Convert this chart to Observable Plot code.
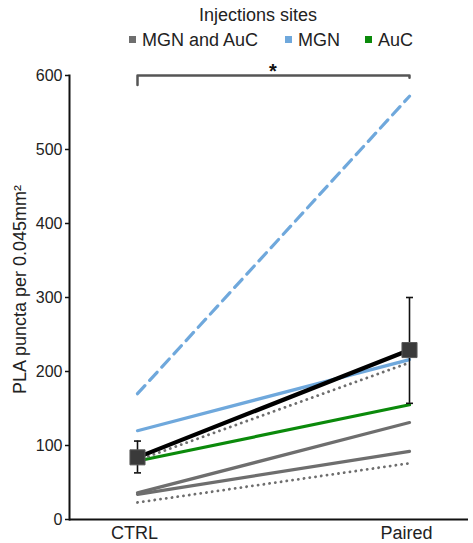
<!DOCTYPE html>
<html>
<head>
<meta charset="utf-8">
<script src="https://cdn.jsdelivr.net/npm/d3@7"></script>
<script src="https://cdn.jsdelivr.net/npm/@observablehq/plot@0.6"></script>
<style>
  html, body { margin: 0; padding: 0; background: #fff; }
  body { width: 473px; height: 543px; overflow: hidden; font-family: "Liberation Sans", Arial, sans-serif; }
  #legend { position: relative; height: 48px; width: 473px; color: #222; }
  #legend .title { position: absolute; top: 4px; left: 0; width: 473px; padding-left: 43px; box-sizing: border-box; text-align: center; font-size: 18px; line-height: 22px; }
  #legend .item { position: absolute; top: 29px; font-size: 18px; line-height: 22px; white-space: nowrap; z-index: 2; }
  #legend .sw { display: inline-block; width: 7px; height: 7px; margin-right: 6px; vertical-align: 3px; }
  #chart svg { display: block; }
</style>
</head>
<body>
<div id="legend"></div>
<div id="chart"></div>
<script>
// ---- data ----
const conditions = ["CTRL", "Paired"];
const animalIds = ["a1", "a2", "a3", "a4", "a5", "a6", "a7"];
const animalSites = ["MGN", "MGN", "AuC", "MGN and AuC", "MGN and AuC", "MGN and AuC", "MGN and AuC"];
const ctrlValues = [170, 120, 79, 80, 36, 34, 23];
const pairedValues = [572, 216, 155, 212, 131, 92, 76];
const meanValues = [84, 229];
const errLower = [63, 157];
const errUpper = [106, 300];
const siteNames = ["MGN and AuC", "MGN", "AuC"];
const siteColors = ["#6e6e6e", "#6fa8dc", "#0b8a0b"];
const yTicks = [0, 100, 200, 300, 400, 500, 600];
const bracketValues = [587, 600, 600, 597];
const bracketConds = ["CTRL", "CTRL", "Paired", "Paired"];
const significance = "*";
const legendTitle = "Injections sites";
const yLabel = "PLA puncta per 0.045mm²";

// ---- styles (by animal) ----
const dashedIds = ["a1"];
const dottedIds = ["a4", "a7"];

// ---- build tables ----
const rows = [];
animalIds.forEach((id, i) => {
  rows.push({id, site: animalSites[i], cond: conditions[0], value: ctrlValues[i]});
  rows.push({id, site: animalSites[i], cond: conditions[1], value: pairedValues[i]});
});
const means = conditions.map((c, i) => ({cond: c, value: meanValues[i], lo: errLower[i], hi: errUpper[i]}));
const bracket = bracketConds.map((c, i) => ({cond: c, value: bracketValues[i]}));

const solidRows = rows.filter(d => !dashedIds.includes(d.id) && !dottedIds.includes(d.id));
const dashedRows = rows.filter(d => dashedIds.includes(d.id));
const dottedRows = rows.filter(d => dottedIds.includes(d.id));

// legend
const legend = document.getElementById("legend");
const t = document.createElement("div");
t.className = "title"; t.textContent = legendTitle; legend.appendChild(t);
const legendLefts = [129, 285, 365];
siteNames.forEach((s, i) => {
  const it = document.createElement("div");
  it.className = "item";
  it.style.left = legendLefts[i] + "px";
  const sw = document.createElement("span");
  sw.className = "sw"; sw.style.background = siteColors[i];
  it.appendChild(sw);
  it.appendChild(document.createTextNode(s));
  legend.appendChild(it);
});

const capSymbol = {
  draw(context, size) {
    const r = Math.sqrt(size / Math.PI);
    context.moveTo(-r, 0);
    context.lineTo(r, 0);
  }
};

const color = {domain: siteNames, range: siteColors};

const chart = Plot.plot({
  width: 473,
  height: 495,
  marginLeft: 69,
  marginRight: 5,
  marginTop: 27,
  marginBottom: 24,
  style: {fontFamily: "Liberation Sans, Arial, sans-serif", color: "#222", background: "transparent"},
  x: {type: "point", domain: conditions, range: [137, 409], padding: 0},
  y: {domain: [0, 600], range: [471, 27]},
  color,
  marks: [
    Plot.axisY({ticks: yTicks, tickSize: 4, tickPadding: 3, fontSize: 16, label: null, stroke: "#111", strokeWidth: 1.5}),
    Plot.axisX({tickSize: 0, tickPadding: 7, fontSize: 18, label: null, dx: -3}),
    Plot.frame({anchor: "left", stroke: "#111", strokeWidth: 2}),
    Plot.ruleY([0], {stroke: "#111", strokeWidth: 2}),
    Plot.text([yLabel], {frameAnchor: "left", textAnchor: "middle", rotate: -90, dx: -49, dy: -8, fontSize: 18, fill: "#222"}),
    // individual animals
    Plot.line(solidRows, {x: "cond", y: "value", z: "id", stroke: "site", strokeWidth: 3.2}),
    Plot.line(dottedRows, {x: "cond", y: "value", z: "id", stroke: "site", strokeWidth: 2.8, strokeDasharray: "0.1,5.7", strokeLinecap: "round"}),
    Plot.line(dashedRows, {x: "cond", y: "value", z: "id", stroke: "site", strokeWidth: 3.2, strokeDasharray: "11,7"}),
    // mean
    Plot.line(means, {x: "cond", y: "value", stroke: "#000", strokeWidth: 4.2}),
    Plot.ruleX(means, {x: "cond", y1: "lo", y2: "hi", stroke: "#111", strokeWidth: 1.6}),
    Plot.dot(means, {x: "cond", y: "lo", symbol: capSymbol, r: 3.5, stroke: "#111", strokeWidth: 1.6, fill: "none"}),
    Plot.dot(means, {x: "cond", y: "hi", symbol: capSymbol, r: 3.5, stroke: "#111", strokeWidth: 1.6, fill: "none"}),
    Plot.dot(means, {x: "cond", y: "value", symbol: "square", r: 8.5, fill: "#3a3a3a", stroke: "#5a5a5a", strokeWidth: 1}),
    // significance bracket
    Plot.line(bracket, {x: "cond", y: "value", stroke: "#555", strokeWidth: 2.5}),
    Plot.text([significance], {y: () => 600, frameAnchor: "middle", dx: 4, dy: 2, lineAnchor: "bottom", fontSize: 20, fontWeight: "bold", fill: "#111"})
  ]
});
document.getElementById("chart").appendChild(chart);
</script>
</body>
</html>
